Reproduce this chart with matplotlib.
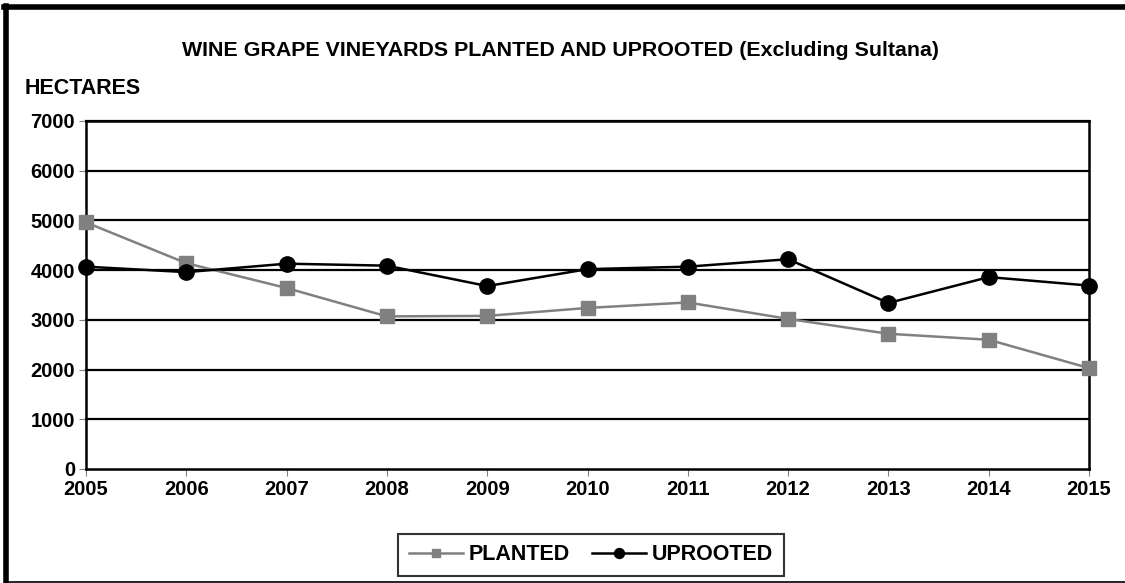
import matplotlib
matplotlib.use("Agg")
import matplotlib.pyplot as plt
from matplotlib.lines import Line2D

plt.rcParams["font.family"] = ["Liberation Sans", "DejaVu Sans"]
plt.rcParams["font.weight"] = "bold"

years = [2005, 2006, 2007, 2008, 2009, 2010, 2011, 2012, 2013, 2014, 2015]
planted = [4960, 4140, 3640, 3070, 3080, 3240, 3350, 3020, 2720, 2600, 2030]
uprooted = [4070, 3960, 4130, 4090, 3680, 4020, 4070, 4220, 3340, 3860, 3690]
y_ticks = [0, 1000, 2000, 3000, 4000, 5000, 6000, 7000]

fig = plt.figure(figsize=(11.25, 5.83), dpi=100)
ax = fig.add_axes([86 / 1125, 1 - 469 / 583, 1003 / 1125, 348 / 583])

# gridlines
for v in y_ticks[1:]:
    ax.axhline(v, color="black", lw=1.6, zorder=1)

ax.plot(years, planted, color="#808080", lw=1.8, marker="s", ms=9.5,
        label="PLANTED", zorder=3)
ax.plot(years, uprooted, color="black", lw=1.8, marker="o", ms=11,
        label="UPROOTED", zorder=4)

ax.set_xlim(2005, 2015)
ax.set_ylim(0, 7000)
ax.set_xticks(years)
ax.set_yticks(y_ticks)
ax.tick_params(axis="both", direction="out", length=5, width=0.8,
               color="#808080", labelsize=14.5, pad=3)
for lbl in ax.get_xticklabels() + ax.get_yticklabels():
    lbl.set_fontweight("bold")
for s in ax.spines.values():
    s.set_color("black")
    s.set_linewidth(1.8)
for p in ax.lines:
    p.set_clip_on(False)

fig.text(561 / 1125, 1 - 50 / 583, "WINE GRAPE VINEYARDS PLANTED AND UPROOTED (Excluding Sultana)",
         ha="center", va="center", fontsize=15.4, fontweight="bold")
fig.text(25 / 1125, 1 - 88 / 583, "HECTARES", ha="left", va="center",
         fontsize=15.5, fontweight="bold")

leg = fig.legend(loc="center", bbox_to_anchor=(591 / 1125, 1 - 555 / 583),
                 ncol=2, frameon=True, fancybox=False, fontsize=15.5,
                 handlelength=2.5, columnspacing=1.0, handletextpad=0.3,
                 borderpad=0.5, markerscale=0.65)
leg.get_frame().set_edgecolor("black")
leg.get_frame().set_linewidth(1.5)
for t in leg.get_texts():
    t.set_fontweight("bold")

# outer chart border: heavy on left/top, thin bottom
fig.add_artist(Line2D([6 / 1125, 6 / 1125], [0, 1 - 6 / 583], color="black", lw=4,
                      transform=fig.transFigure))
fig.add_artist(Line2D([4 / 1125, 1], [1 - 7 / 583, 1 - 7 / 583], color="black", lw=4,
                      transform=fig.transFigure))
fig.add_artist(Line2D([6 / 1125, 1], [1.5 / 583, 1.5 / 583], color="black", lw=1.2,
                      transform=fig.transFigure))

fig.savefig("out.png", dpi=100)
